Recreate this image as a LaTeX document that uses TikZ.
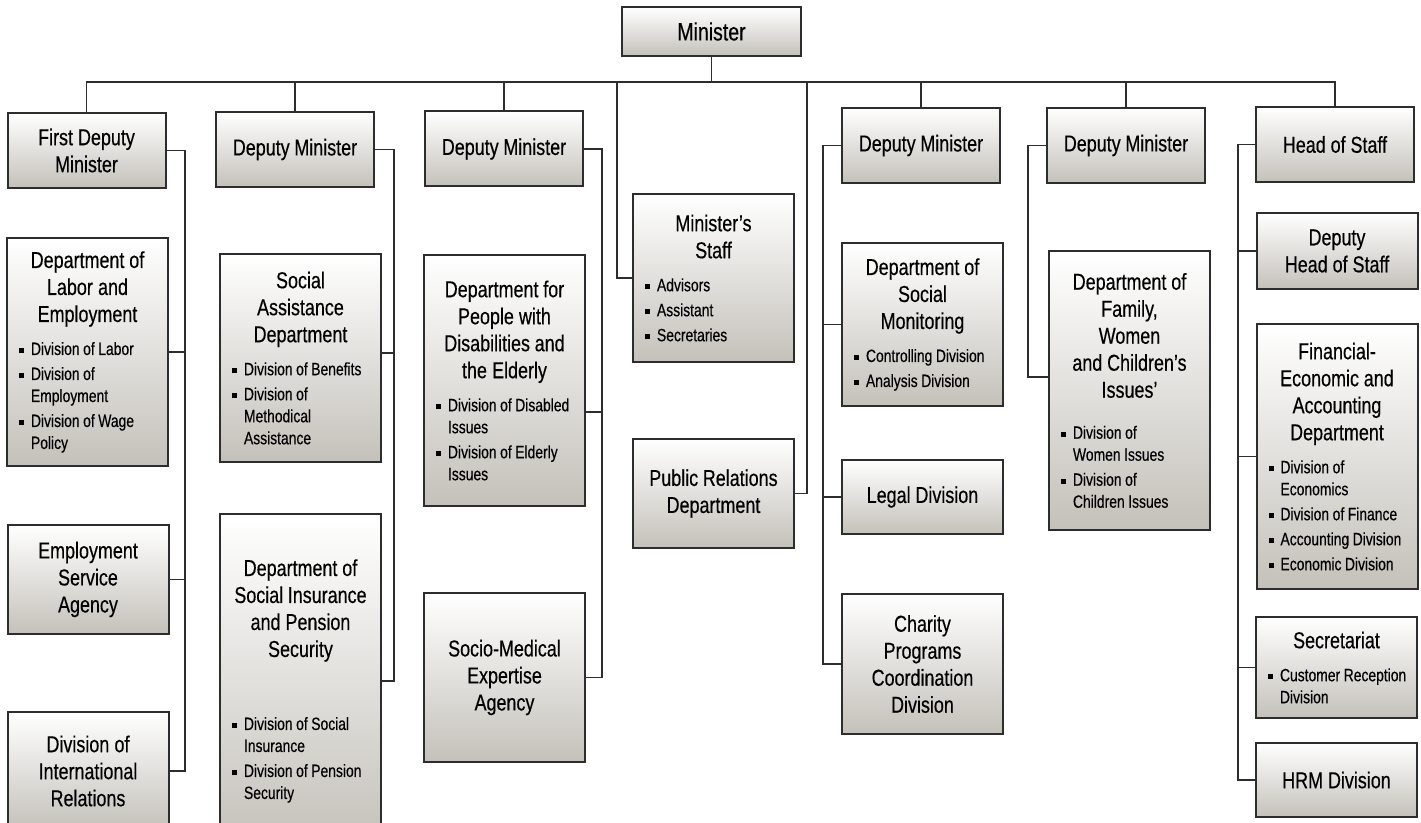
\documentclass[tikz,border=0pt]{standalone}
\usepackage{fontspec}
\setmainfont[FakeStretch=0.78,FakeBold=0.4]{Liberation Sans}
\usepackage{tikz}

\definecolor{boxshade}{RGB}{196,193,186}
\definecolor{linegray}{RGB}{45,45,45}
\newcommand{\boxhead}{\fontsize{11.5}{13.5}\selectfont}
\newcommand{\boxitem}{\fontsize{8.9}{11}\selectfont\spaceskip=0.2em plus 0.05em}
% one bulleted division line inside a box
\newcommand{\bul}[1]{\par\vspace{1.5pt}{\boxitem\raggedright\hangindent=9.5pt\hangafter=1\noindent
  \hspace*{3.5pt}\rule[0.9pt]{2.6pt}{2.6pt}\hspace{3.4pt}#1\par}}

\begin{document}
\begin{tikzpicture}[x=0.5pt,y=-0.5pt,
    unit/.style={draw=linegray,line width=1pt,top color=white,bottom color=boxshade,
      align=center,font=\boxhead,text width=75.5pt,inner xsep=2.5pt,inner ysep=2pt,
      execute at begin node={\spaceskip=0.19em plus 0.05em\relax}},
    chief/.style={unit,text width=74pt,minimum height=37.5pt},
    link/.style={draw=linegray,line width=0.75pt}]
  \useasboundingbox (0,0) rectangle (1421,823);

  % top of the chart
  \node[unit,text width=84.5pt,font=\fontsize{12.5}{15}\selectfont,minimum height=24.5pt] (min) at (711.5,31.5) {Minister};
  \node[chief] (fdm) at (86.5,150.5) {First Deputy\\Minister};
  \node[chief] (dm1) at (295,149.5)  {Deputy Minister};
  \node[chief] (dm2) at (504,149)    {Deputy Minister};
  \node[chief] (dm3) at (921,145.5)  {Deputy Minister};
  \node[chief] (dm4) at (1126,145.5) {Deputy Minister};
  \node[chief] (hos) at (1335,144.5) {Head of Staff};

  % first deputy minister
  \node[unit,minimum height=114pt] (dle) at (87.5,352) {Department of\\Labor and\\Employment\par\vspace{4pt}
    \bul{Division of Labor}\bul{Division of\newline Employment}\bul{Division of Wage\newline Policy}};
  \node[unit,minimum height=54.5pt] (esa) at (88,579.5) {Employment\\Service\\Agency};
  \node[unit,minimum height=59pt]   (dir) at (88,771)   {Division of\\International\\Relations};

  % deputy minister 1
  \node[unit,minimum height=104pt] (sad) at (300.5,358) {Social\\Assistance\\Department\par\vspace{4pt}
    \bul{Division of Benefits}\bul{Division of\newline Methodical\newline Assistance}};
  \node[unit,minimum height=167pt] (dsi) at (300.5,681) {Department of\\Social Insurance\\and Pension\\Security\par\vspace{24pt}
    \bul{Division of Social\newline Insurance}\bul{Division of Pension\newline Security}\par\vspace*{20pt}};

  % deputy minister 2
  \node[unit,minimum height=125.5pt] (dpe) at (504.5,380.5) {Department for\\People with\\Disabilities and\\the Elderly\par\vspace{4pt}
    \bul{Division of Disabled\newline Issues}\bul{Division of Elderly\newline Issues}};
  \node[unit,minimum height=84.5pt] (sme) at (504.5,677.5) {Socio-Medical\\Expertise\\Agency};

  % under the minister
  \node[unit,minimum height=84pt] (mst) at (713.5,278) {Minister's\\Staff\par\vspace{4pt}
    \bul{Advisors}\bul{Assistant}\bul{Secretaries}};
  \node[unit,minimum height=54.5pt] (prd) at (713.5,493.5) {Public Relations\\Department};

  % deputy minister 3
  \node[unit,minimum height=81.5pt] (smo) at (922.5,324.5) {Department of\\Social\\Monitoring\par\vspace{4pt}
    \bul{Controlling Division}\bul{Analysis Division}};
  \node[unit,minimum height=37pt] (lgd) at (922.5,497) {Legal Division};
  \node[unit,minimum height=70pt] (cpd) at (922.5,664) {Charity\\Programs\\Coordination\\Division};

  % deputy minister 4
  \node[unit,minimum height=139.5pt] (fwc) at (1129.5,390.5) {Department of\\Family,\\Women\\and Children's\\Issues'\par\vspace{8pt}
    \bul{Division of\newline Women Issues}\bul{Division of\newline Children Issues}};

  % head of staff
  \node[unit,minimum height=38pt] (dhs) at (1337,251) {Deputy\\Head of Staff};
  \node[unit,minimum height=132.5pt] (fea) at (1337,456.5) {Financial-\\Economic and\\Accounting\\Department\par\vspace{4pt}
    \bul{Division of\newline Economics}\bul{Division of Finance}\bul{Accounting Division}\bul{Economic Division}};
  \node[unit,minimum height=50.5pt] (sec) at (1336.5,667.5) {Secretariat\par\vspace{4pt}
    \bul{Customer Reception\newline Division}};
  \node[unit,minimum height=37pt] (hrm) at (1336.5,780) {HRM Division};

  % bus and spines
  \coordinate (bus) at (0,82);
  \coordinate (msl) at (617,82);
  \coordinate (prl) at (807,82);
  \coordinate (sp1) at (185,0);
  \coordinate (sp2) at (394,0);
  \coordinate (sp3) at (602,0);
  \coordinate (sp4) at (823,0);
  \coordinate (sp5) at (1028,0);
  \coordinate (sp6) at (1238,0);
  \coordinate (sadin) at ([yshift=2.5pt]sad.east);
  \coordinate (dpein) at ([yshift=-15.75pt]dpe.east);
  \coordinate (fwcin) at ([yshift=6.75pt]fwc.west);

  \draw[link] (min.south) -- (min.south |- bus);
  \draw[link] (fdm.north) |- (hos.north |- bus) -- (hos.north);
  \foreach \n in {dm1,dm2,dm3,dm4}
    \draw[link] (\n.north) -- (\n.north |- bus);
  \draw[link] (msl) |- (mst.west);
  \draw[link] (prl) |- (prd.east);

  \draw[link] (fdm.east) -| (sp1 |- dir.east) -- (dir.east);
  \draw[link] (dle.east) -- (dle.east -| sp1);
  \draw[link] (esa.east) -- (esa.east -| sp1);

  \draw[link] (dm1.east) -| (sp2 |- dsi.east) -- (dsi.east);
  \draw[link] (sadin) -- (sadin -| sp2);

  \draw[link] (dm2.east) -| (sp3 |- sme.east) -- (sme.east);
  \draw[link] (dpein) -- (dpein -| sp3);

  \draw[link] (dm3.west) -| (sp4 |- cpd.west) -- (cpd.west);
  \draw[link] (smo.west) -- (smo.west -| sp4);
  \draw[link] (lgd.west) -- (lgd.west -| sp4);

  \draw[link] (dm4.west) -| (sp5 |- fwcin) -- (fwcin);

  \draw[link] (hos.west) -| (sp6 |- hrm.west) -- (hrm.west);
  \draw[link] (dhs.west) -- (dhs.west -| sp6);
  \draw[link] (fea.west) -- (fea.west -| sp6);
  \draw[link] (sec.west) -- (sec.west -| sp6);
\end{tikzpicture}
\end{document}
